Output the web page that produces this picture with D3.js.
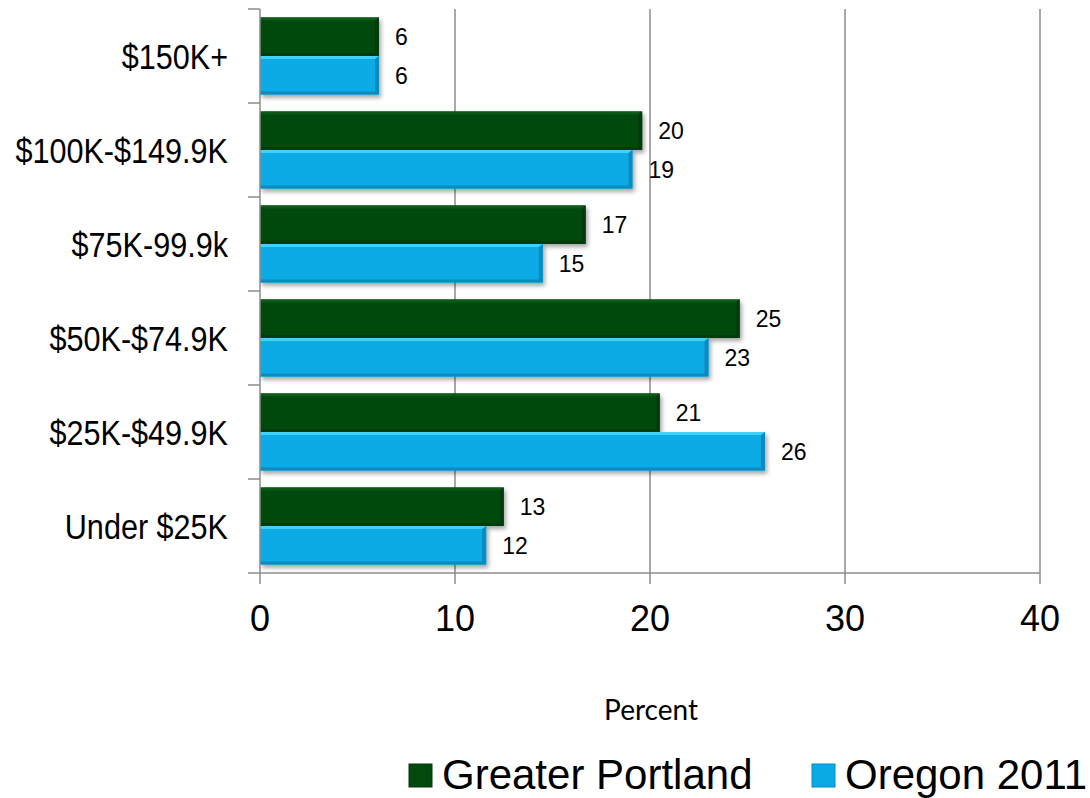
<!DOCTYPE html>
<html>
<head>
<meta charset="utf-8">
<script src="https://cdn.jsdelivr.net/npm/d3@7"></script>
<style>
  body { margin: 0; background: #fff; }
  svg { display: block; }
</style>
</head>
<body>
<script>
// Household income shares, percent
var categories = ["$150K+", "$100K-$149.9K", "$75K-99.9k", "$50K-$74.9K", "$25K-$49.9K", "Under $25K"];
var seriesNames = ["Greater Portland", "Oregon 2011"];
var portland = [6.1, 19.6, 16.7, 24.6, 20.5, 12.5];
var oregon = [6.1, 19.1, 14.5, 23.0, 25.9, 11.6];
var xTicks = [0, 10, 20, 30, 40];

var colors = ["#03490e", "#09abe6"];
var tops = ["#0b5a18", "#3fd2ff"];
var edges = ["#023a0a", "#078bc0"];

var width = 1090, height = 798;
var svg = d3.select("body").append("svg")
    .attr("width", width)
    .attr("height", height)
    .style("font-family", "'Liberation Sans', Arial, sans-serif");

var defs = svg.append("defs");
var shadow = defs.append("filter").attr("id", "shadow")
    .attr("x", "-5%").attr("y", "-20%").attr("width", "115%").attr("height", "160%");
shadow.append("feDropShadow")
    .attr("dx", 2).attr("dy", 3).attr("stdDeviation", 2)
    .attr("flood-color", "#000").attr("flood-opacity", 0.35);

var x = d3.scaleLinear().domain([0, 40]).range([260, 1040]);
var y = d3.scaleBand().domain(categories).range([9, 573])
    .paddingInner(0.18).paddingOuter(0.09);
var ySub = d3.scaleBand().domain([0, 1]).range([0, y.bandwidth()]);

// gridlines
svg.append("g").selectAll("line")
    .data(xTicks.slice(1))
    .enter().append("line")
    .attr("x1", d => x(d)).attr("x2", d => x(d))
    .attr("y1", 9).attr("y2", 584)
    .attr("stroke", "#8c8c8c").attr("stroke-width", 1.5);

// bars
var rows = categories.map((c, i) => ({ cat: c, vals: [portland[i], oregon[i]] }));
var groups = svg.append("g").selectAll("g")
    .data(rows)
    .enter().append("g")
    .attr("transform", d => "translate(0," + y(d.cat) + ")");

groups.each(function (row) {
    var g = d3.select(this);
    row.vals.forEach(function (v, s) {
        var x0 = x(0), x1 = x(v), y0 = ySub(s), h = ySub.bandwidth();
        var bar = g.append("g").attr("filter", "url(#shadow)");
        bar.append("rect")
            .attr("x", x0).attr("y", y0)
            .attr("width", x1 - x0).attr("height", h)
            .attr("fill", colors[s]);
        // bevel edges
        bar.append("path")
            .attr("d", "M" + x0 + "," + y0 + "H" + x1 + "L" + (x1 - 3) + "," + (y0 + 3) + "H" + x0 + "Z")
            .attr("fill", tops[s]);
        bar.append("path")
            .attr("d", "M" + x1 + "," + y0 + "V" + (y0 + h) + "L" + (x1 - 4) + "," + (y0 + h - 3) + "V" + (y0 + 3) + "Z")
            .attr("fill", edges[s]);
        bar.append("path")
            .attr("d", "M" + x0 + "," + (y0 + h) + "H" + x1 + "L" + (x1 - 4) + "," + (y0 + h - 3) + "H" + x0 + "Z")
            .attr("fill", edges[s]);
        g.append("text")
            .attr("x", x1 + 16)
            .attr("y", y0 + h / 2)
            .attr("dy", "0.36em")
            .attr("font-size", 23)
            .attr("fill", "#000")
            .text(Math.round(v));
    });
});

// axes lines
svg.append("line")
    .attr("x1", 260).attr("x2", 1040).attr("y1", 573).attr("y2", 573)
    .attr("stroke", "#8c8c8c").attr("stroke-width", 1.5);
svg.append("line")
    .attr("x1", 260).attr("x2", 260).attr("y1", 9).attr("y2", 584)
    .attr("stroke", "#8c8c8c").attr("stroke-width", 1.5);

// category tick marks on y axis
var bandEdges = categories.map(c => y(c) - y.step() * y.paddingInner() / 2);
bandEdges.push(573);
svg.append("g").selectAll("line")
    .data(bandEdges)
    .enter().append("line")
    .attr("x1", 248).attr("x2", 260)
    .attr("y1", d => d).attr("y2", d => d)
    .attr("stroke", "#8c8c8c").attr("stroke-width", 1.5);

// x tick labels
svg.append("g").selectAll("text")
    .data(xTicks)
    .enter().append("text")
    .attr("x", d => x(d)).attr("y", 631)
    .attr("text-anchor", "middle")
    .attr("font-size", 36)
    .text(d => d);

// y category labels (condensed)
svg.append("g").selectAll("text")
    .data(categories)
    .enter().append("text")
    .attr("transform", d => "translate(228," + (y(d) + y.bandwidth() / 2 + 13) + ") scale(0.85,1)")
    .attr("text-anchor", "end")
    .attr("font-size", 36)
    .text(d => d);

// axis title
svg.append("text")
    .attr("x", 651).attr("y", 720)
    .attr("text-anchor", "middle")
    .attr("font-family", "Lato, 'Open Sans', sans-serif")
    .attr("font-size", 28)
    .text("Percent");

// legend
var legendX = [409, 812];
var legend = svg.append("g").selectAll("g")
    .data(seriesNames)
    .enter().append("g")
    .attr("transform", (d, i) => "translate(" + legendX[i] + ",764)");
legend.append("rect")
    .attr("width", 23).attr("height", 23)
    .attr("fill", (d, i) => colors[i])
    .attr("stroke", (d, i) => edges[i]).attr("stroke-width", 1);
legend.append("text")
    .attr("x", 33).attr("y", 25)
    .attr("font-size", 42)
    .text(d => d);
</script>
</body>
</html>
